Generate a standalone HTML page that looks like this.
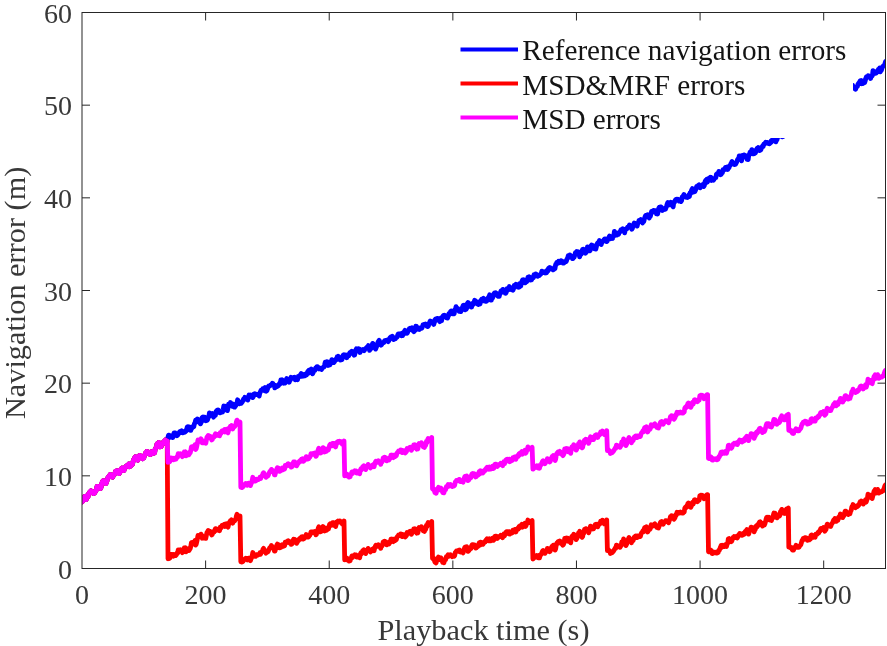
<!DOCTYPE html>
<html><head><meta charset="utf-8"><style>
html,body{margin:0;padding:0;background:#fff;}
svg{display:block;filter:blur(0.35px);}
text{font-family:"Liberation Serif",serif;}
</style></head><body>
<svg width="887" height="646" viewBox="0 0 887 646">
<rect x="0" y="0" width="887" height="646" fill="#fff"/>
<clipPath id="ax"><rect x="82.0" y="12.5" width="803.5" height="556.0"/></clipPath>
<g clip-path="url(#ax)">
<polyline points="82.0,501.9 82.6,501.3 83.2,499.5 83.8,498.5 84.4,496.6 85.0,496.3 85.6,498.3 86.2,499.5 86.8,496.3 87.4,495.8 88.0,496.7 88.6,493.6 89.2,493.8 89.8,492.0 90.4,491.4 91.0,490.7 91.6,491.8 92.2,491.4 92.8,491.8 93.4,493.4 94.0,492.2 94.6,493.1 95.2,491.3 95.8,491.3 96.4,489.5 97.0,486.5 97.6,486.5 98.2,487.7 98.8,488.1 99.4,486.7 100.0,487.7 100.6,488.4 101.2,486.8 101.8,483.5 102.4,481.8 103.0,481.0 103.6,480.7 104.2,480.8 104.8,482.5 105.4,482.0 106.0,483.5 106.6,481.7 107.2,480.3 107.8,477.7 108.4,477.6 109.0,476.1 109.6,475.9 110.2,474.5 110.8,474.9 111.4,476.8 112.0,476.7 112.6,477.1 113.2,476.1 113.8,474.6 114.4,474.5 115.0,473.1 115.6,471.1 116.2,471.2 116.8,470.8 117.4,472.1 118.0,472.6 118.6,472.9 119.2,473.5 119.8,472.5 120.4,471.2 121.0,468.9 121.6,469.1 122.2,468.1 122.8,470.4 123.4,469.4 124.0,470.5 124.6,468.0 125.2,467.9 125.8,466.4 126.4,465.9 127.0,465.6 127.6,465.4 128.2,465.8 128.8,463.9 129.4,466.7 130.0,465.9 130.6,466.1 131.2,464.7 131.8,464.7 132.4,464.5 133.0,461.7 133.6,459.8 134.2,459.2 134.8,457.5 135.4,456.7 136.0,457.4 136.6,459.4 137.2,459.7 137.8,460.2 138.4,458.3 139.0,456.0 139.6,455.4 140.2,455.7 140.8,457.3 141.4,457.5 142.0,457.1 142.6,458.7 143.2,458.1 143.8,457.9 144.4,455.7 145.0,454.5 145.6,452.8 146.2,452.7 146.8,451.5 147.4,451.6 148.0,451.9 148.6,453.6 149.2,453.2 149.8,454.4 150.4,454.5 151.0,454.2 151.6,451.7 152.2,451.8 152.8,453.4 153.4,451.2 154.0,453.1 154.6,452.8 155.2,449.2 155.8,448.1 156.4,447.4 157.0,443.9 157.6,444.4 158.2,444.7 158.8,442.4 159.4,445.3 160.0,446.8 160.6,445.6 161.2,446.5 161.8,444.5 162.4,443.8 163.0,443.5 163.6,441.7 164.2,443.2 164.8,441.3 165.4,440.1 166.0,440.8 166.6,441.3 167.2,441.2 166.8,439.8 167.4,439.6 168.0,436.9 168.6,435.1 169.2,436.5 169.8,437.3 170.4,436.9 171.0,435.8 171.6,436.6 172.2,437.5 172.8,437.5 173.4,435.5 174.0,433.0 174.6,433.0 175.2,432.9 175.8,433.9 176.4,433.8 177.0,435.8 177.6,435.1 178.2,434.5 178.8,433.3 179.4,432.1 180.0,431.5 180.6,432.4 181.2,431.6 181.8,430.8 182.4,432.3 183.0,432.8 183.6,432.2 184.2,431.6 184.8,432.3 185.4,431.5 186.0,431.4 186.6,429.5 187.2,427.2 187.8,426.7 188.4,426.8 189.0,428.0 189.6,427.1 190.2,430.4 190.8,430.4 191.4,428.6 192.0,428.0 192.6,426.6 193.2,426.5 193.8,426.8 194.4,423.8 195.0,423.0 195.6,420.3 196.2,422.2 196.8,420.9 197.4,419.0 198.0,419.4 198.6,421.4 199.2,421.5 199.8,422.7 200.4,423.8 201.0,422.9 201.6,419.0 202.2,417.5 202.8,417.1 203.4,418.2 204.0,420.2 204.6,417.1 205.2,419.9 205.8,420.6 206.4,419.2 207.0,420.4 207.6,419.7 208.2,417.2 208.8,416.8 209.4,412.9 210.0,413.4 210.6,413.6 211.2,413.7 211.8,414.4 212.4,413.6 213.0,416.2 213.6,417.1 214.2,415.8 214.8,415.7 215.4,415.4 216.0,411.5 216.6,412.3 217.2,410.2 217.8,411.0 218.4,410.0 219.0,411.1 219.6,412.8 220.2,412.8 220.8,411.7 221.4,411.6 222.0,412.0 222.6,412.0 223.2,409.5 223.8,406.0 224.4,406.9 225.0,406.4 225.6,409.2 226.2,408.9 226.8,410.5 227.4,410.6 228.0,408.1 228.6,404.1 229.2,405.9 229.8,405.2 230.4,402.5 231.0,403.1 231.6,404.5 232.2,406.3 232.8,404.3 233.4,404.1 234.0,407.1 234.6,407.2 235.2,406.2 235.8,405.7 236.4,404.6 237.0,403.1 237.6,399.8 238.2,400.8 238.8,402.5 239.4,403.8 240.0,403.4 240.6,402.6 241.2,403.2 241.8,402.6 242.4,401.8 243.0,400.6 243.6,398.9 244.2,399.7 244.8,397.3 245.4,397.7 246.0,398.6 246.6,398.8 247.2,399.2 247.8,400.0 248.4,398.1 249.0,395.0 249.6,395.8 250.2,395.1 250.8,395.9 251.4,395.4 252.0,396.6 252.6,397.6 253.2,396.9 253.8,394.3 254.4,394.5 255.0,393.7 255.6,394.7 256.2,394.4 256.8,394.6 257.4,394.3 258.0,394.7 258.6,394.1 259.2,396.1 259.8,393.1 260.4,391.9 261.0,390.2 261.6,390.2 262.2,389.9 262.8,388.7 263.4,389.9 264.0,389.4 264.6,390.7 265.2,387.5 265.8,390.2 266.4,391.1 267.0,390.5 267.6,388.8 268.2,387.1 268.8,385.9 269.4,385.9 270.0,385.9 270.6,384.8 271.2,384.7 271.8,384.2 272.4,383.2 273.0,383.7 273.6,385.1 274.2,385.3 274.8,387.9 275.4,385.4 276.0,386.2 276.6,386.1 277.2,386.5 277.8,385.8 278.4,385.7 279.0,384.4 279.6,383.2 280.2,383.8 280.8,380.0 281.4,380.3 282.0,379.7 282.6,382.7 283.2,380.9 283.8,383.2 284.4,382.2 285.0,383.0 285.6,380.8 286.2,379.6 286.8,378.5 287.4,380.0 288.0,379.9 288.6,380.2 289.2,382.3 289.8,380.5 290.4,379.9 291.0,377.3 291.6,378.6 292.2,378.0 292.8,377.8 293.4,377.4 294.0,377.7 294.6,377.2 295.2,379.8 295.8,379.7 296.4,378.2 297.0,378.9 297.6,379.6 298.2,376.5 298.8,377.1 299.4,376.6 300.0,375.6 300.6,374.5 301.2,373.6 301.8,376.3 302.4,374.4 303.0,375.5 303.6,375.9 304.2,374.7 304.8,375.8 305.4,375.3 306.0,374.0 306.6,374.8 307.2,372.8 307.8,371.5 308.4,373.3 309.0,370.1 309.6,370.4 310.2,370.9 310.8,371.3 311.4,369.0 312.0,372.3 312.6,373.8 313.2,372.5 313.8,371.2 314.4,370.2 315.0,370.3 315.6,368.0 316.2,368.4 316.8,366.7 317.4,366.7 318.0,368.0 318.6,367.5 319.2,368.9 319.8,368.3 320.4,368.8 321.0,368.2 321.6,369.5 322.2,367.8 322.8,367.9 323.4,367.1 324.0,367.1 324.6,364.8 325.2,362.2 325.8,364.3 326.4,362.9 327.0,361.7 327.6,362.0 328.2,365.5 328.8,364.2 329.4,364.5 330.0,364.7 330.6,362.8 331.2,361.8 331.8,359.6 332.4,360.9 333.0,362.7 333.6,362.7 334.2,362.1 334.8,361.2 335.4,360.3 336.0,358.9 336.6,359.7 337.2,356.7 337.8,357.5 338.4,356.3 339.0,357.7 339.6,358.4 340.2,360.0 340.8,359.5 341.4,358.6 342.0,359.7 342.6,357.5 343.2,355.0 343.8,354.8 344.4,355.7 345.0,355.3 345.6,354.9 346.2,355.2 346.8,357.7 347.4,354.9 348.0,355.8 348.6,355.9 349.2,354.6 349.8,352.7 350.4,353.3 351.0,351.8 351.6,351.3 352.2,353.2 352.8,351.6 353.4,353.1 354.0,355.2 354.6,355.0 355.2,352.9 355.8,350.0 356.4,348.8 357.0,349.1 357.6,349.4 358.2,348.8 358.8,349.9 359.4,349.0 360.0,352.5 360.6,351.1 361.2,350.0 361.8,349.9 362.4,350.1 363.0,349.5 363.6,349.9 364.2,350.7 364.8,349.5 365.4,348.8 366.0,348.2 366.6,347.6 367.2,347.0 367.8,346.8 368.4,345.6 369.0,347.6 369.6,350.4 370.2,349.3 370.8,348.8 371.4,346.1 372.0,345.2 372.6,343.4 373.2,343.9 373.8,345.0 374.4,346.2 375.0,348.4 375.6,349.0 376.2,347.5 376.8,346.1 377.4,345.2 378.0,342.0 378.6,341.1 379.2,340.3 379.8,343.1 380.4,343.0 381.0,345.2 381.6,344.7 382.2,343.6 382.8,342.8 383.4,342.2 384.0,342.5 384.6,340.6 385.2,341.0 385.8,340.7 386.4,340.4 387.0,340.1 387.6,341.0 388.2,341.6 388.8,340.8 389.4,339.7 390.0,337.7 390.6,337.1 391.2,337.7 391.8,336.9 392.4,336.2 393.0,338.6 393.6,339.5 394.2,338.0 394.8,339.0 395.4,338.9 396.0,337.8 396.6,337.3 397.2,337.0 397.8,334.6 398.4,333.8 399.0,333.9 399.6,334.0 400.2,333.9 400.8,335.5 401.4,335.7 402.0,333.3 402.6,335.6 403.2,334.0 403.8,334.0 404.4,331.3 405.0,330.4 405.6,330.9 406.2,332.1 406.8,333.3 407.4,332.8 408.0,331.2 408.6,330.4 409.2,328.8 409.8,329.4 410.4,328.3 411.0,329.6 411.6,328.8 412.2,327.9 412.8,330.7 413.4,330.9 414.0,331.7 414.6,330.0 415.2,330.2 415.8,326.2 416.4,326.4 417.0,328.3 417.6,327.5 418.2,329.3 418.8,329.1 419.4,329.4 420.0,328.1 420.6,327.7 421.2,328.4 421.8,328.2 422.4,326.9 423.0,324.8 423.6,324.4 424.2,325.2 424.8,324.4 425.4,324.0 426.0,324.7 426.6,325.7 427.2,326.5 427.8,326.6 428.4,325.8 429.0,323.4 429.6,322.4 430.2,321.0 430.8,321.2 431.4,322.0 432.0,321.9 432.6,323.3 433.2,323.1 433.8,324.4 434.4,322.3 435.0,319.6 435.6,319.0 436.2,320.3 436.8,319.9 437.4,318.5 438.0,318.5 438.6,320.3 439.2,320.6 439.8,321.7 440.4,320.2 441.0,318.0 441.6,320.7 442.2,317.4 442.8,316.2 443.4,315.5 444.0,316.2 444.6,315.3 445.2,315.8 445.8,316.1 446.4,317.8 447.0,317.0 447.6,318.1 448.2,316.0 448.8,313.8 449.4,314.6 450.0,314.0 450.6,311.3 451.2,311.0 451.8,312.0 452.4,312.2 453.0,313.8 453.6,313.4 454.2,313.7 454.8,309.7 455.4,309.6 456.0,306.6 456.6,308.9 457.2,308.6 457.8,308.4 458.4,310.2 459.0,311.1 459.6,310.3 460.2,311.4 460.8,311.6 461.4,310.0 462.0,308.4 462.6,306.9 463.2,305.5 463.8,305.2 464.4,307.7 465.0,309.9 465.6,308.6 466.2,309.1 466.8,308.0 467.4,303.4 468.0,302.5 468.6,303.5 469.2,305.3 469.8,306.4 470.4,306.4 471.0,305.4 471.6,307.1 472.2,303.5 472.8,303.5 473.4,304.3 474.0,302.4 474.6,300.3 475.2,300.6 475.8,301.4 476.4,303.0 477.0,301.8 477.6,304.1 478.2,304.5 478.8,304.2 479.4,303.3 480.0,304.0 480.6,300.6 481.2,300.1 481.8,299.2 482.4,299.1 483.0,300.4 483.6,298.2 484.2,300.9 484.8,300.5 485.4,301.2 486.0,300.3 486.6,301.1 487.2,299.9 487.8,298.5 488.4,297.4 489.0,296.9 489.6,294.8 490.2,295.9 490.8,300.1 491.4,300.2 492.0,296.7 492.6,298.0 493.2,295.5 493.8,293.9 494.4,293.1 495.0,292.9 495.6,292.7 496.2,293.5 496.8,293.4 497.4,295.8 498.0,296.2 498.6,295.1 499.2,296.3 499.8,293.9 500.4,293.4 501.0,290.8 501.6,290.6 502.2,291.3 502.8,289.4 503.4,291.7 504.0,292.3 504.6,291.8 505.2,293.2 505.8,293.3 506.4,292.0 507.0,288.7 507.6,290.1 508.2,288.4 508.8,289.6 509.4,286.5 510.0,288.1 510.6,287.9 511.2,288.9 511.8,289.8 512.4,289.5 513.0,290.1 513.6,288.6 514.2,285.4 514.8,285.8 515.4,285.3 516.0,284.3 516.6,285.7 517.2,285.9 517.8,287.0 518.4,286.3 519.0,287.3 519.6,283.6 520.2,285.8 520.8,286.0 521.4,283.0 522.0,281.1 522.6,280.0 523.2,281.6 523.8,279.8 524.4,282.6 525.0,282.9 525.6,282.5 526.2,282.0 526.8,281.8 527.4,279.3 528.0,277.1 528.6,277.6 529.2,276.9 529.8,280.0 530.4,280.1 531.0,278.9 531.6,279.8 532.2,277.4 532.8,277.3 533.4,277.8 534.0,274.7 534.6,274.9 535.2,275.1 535.8,273.9 536.4,274.6 537.0,275.5 537.6,276.3 538.2,275.5 538.8,275.6 539.4,275.4 540.0,274.7 540.6,274.2 541.2,273.7 541.8,271.2 542.4,271.5 543.0,272.1 543.6,272.5 544.2,272.5 544.8,271.9 545.4,272.9 546.0,272.5 546.6,272.8 547.2,270.3 547.8,271.1 548.4,268.6 549.0,267.9 549.6,267.5 550.2,267.6 550.8,268.8 551.4,269.1 552.0,269.2 552.6,268.9 553.2,269.8 553.8,269.4 554.4,267.5 555.0,268.7 555.6,264.5 556.2,264.8 556.8,262.4 557.4,263.4 558.0,262.5 558.6,261.3 559.2,262.8 559.8,262.6 560.4,261.6 561.0,260.7 561.6,260.8 562.2,262.3 562.8,263.1 563.4,262.7 564.0,263.0 564.6,261.3 565.2,261.3 565.8,261.8 566.4,261.2 567.0,259.0 567.6,258.4 568.2,255.8 568.8,256.8 569.4,256.3 570.0,255.0 570.6,255.5 571.2,256.4 571.8,257.2 572.4,258.7 573.0,258.6 573.6,257.5 574.2,257.2 574.8,255.1 575.4,252.7 576.0,253.0 576.6,251.6 577.2,252.8 577.8,251.7 578.4,252.0 579.0,253.3 579.6,256.8 580.2,255.2 580.8,253.2 581.4,254.0 582.0,250.9 582.6,249.5 583.2,249.2 583.8,250.3 584.4,251.3 585.0,250.6 585.6,253.2 586.2,252.0 586.8,251.7 587.4,247.0 588.0,247.8 588.6,250.6 589.2,249.7 589.8,250.8 590.4,250.0 591.0,245.9 591.6,245.0 592.2,245.2 592.8,245.6 593.4,246.9 594.0,248.0 594.6,248.9 595.2,248.8 595.8,249.1 596.4,246.8 597.0,244.0 597.6,243.1 598.2,243.9 598.8,242.3 599.4,240.5 600.0,241.8 600.6,243.3 601.2,244.6 601.8,242.5 602.4,241.9 603.0,241.4 603.6,240.3 604.2,239.6 604.8,238.8 605.4,238.8 606.0,240.5 606.6,241.6 607.2,241.1 607.8,239.4 608.4,238.3 609.0,237.1 609.6,236.1 610.2,236.7 610.8,238.7 611.4,236.9 612.0,238.1 612.6,238.4 613.2,235.8 613.8,236.1 614.4,231.4 615.0,232.3 615.6,234.0 616.2,234.0 616.8,235.1 617.4,234.6 618.0,233.8 618.6,234.2 619.2,232.4 619.8,232.2 620.4,231.3 621.0,229.7 621.6,229.8 622.2,230.6 622.8,228.7 623.4,230.2 624.0,230.2 624.6,232.8 625.2,230.4 625.8,229.1 626.4,228.9 627.0,228.7 627.6,227.0 628.2,226.9 628.8,226.7 629.4,225.0 630.0,225.3 630.6,225.7 631.2,227.2 631.8,229.2 632.4,228.4 633.0,226.4 633.6,224.8 634.2,223.0 634.8,224.2 635.4,224.4 636.0,223.6 636.6,223.8 637.2,226.1 637.8,223.3 638.4,222.6 639.0,220.4 639.6,220.5 640.2,220.2 640.8,219.5 641.4,220.1 642.0,221.4 642.6,222.9 643.2,220.8 643.8,221.6 644.4,218.9 645.0,216.8 645.6,215.6 646.2,215.1 646.8,215.2 647.4,214.8 648.0,216.0 648.6,217.1 649.2,218.0 649.8,216.5 650.4,216.2 651.0,213.5 651.6,211.5 652.2,211.2 652.8,212.0 653.4,210.3 654.0,210.3 654.6,211.8 655.2,211.9 655.8,210.7 656.4,213.8 657.0,213.2 657.6,213.9 658.2,211.2 658.8,208.2 659.4,207.1 660.0,207.1 660.6,206.9 661.2,207.1 661.8,208.1 662.4,210.5 663.0,209.8 663.6,209.1 664.2,209.4 664.8,208.5 665.4,209.2 666.0,207.8 666.6,206.0 667.2,203.9 667.8,202.5 668.4,204.1 669.0,204.9 669.6,203.0 670.2,204.0 670.8,202.2 671.4,203.4 672.0,204.1 672.6,206.2 673.2,206.8 673.8,202.1 674.4,202.5 675.0,200.7 675.6,199.7 676.2,199.3 676.8,200.1 677.4,200.0 678.0,199.2 678.6,200.4 679.2,201.2 679.8,201.2 680.4,200.9 681.0,201.5 681.6,200.6 682.2,196.8 682.8,197.5 683.4,195.5 684.0,194.5 684.6,196.8 685.2,196.4 685.8,197.0 686.4,197.3 687.0,196.9 687.6,197.5 688.2,197.0 688.8,195.0 689.4,196.5 690.0,192.9 690.6,193.7 691.2,191.2 691.8,189.7 692.4,188.6 693.0,190.1 693.6,192.0 694.2,191.6 694.8,191.7 695.4,190.5 696.0,188.9 696.6,186.5 697.2,187.0 697.8,185.9 698.4,185.3 699.0,184.8 699.6,185.7 700.2,187.9 700.8,185.5 701.4,186.1 702.0,185.9 702.6,184.8 703.2,186.0 703.8,186.4 704.4,185.5 705.0,181.7 705.6,180.4 706.2,181.0 706.8,179.3 707.4,182.2 708.0,180.1 708.6,178.6 709.2,179.1 709.8,179.5 710.4,177.2 711.0,177.4 711.6,180.5 712.2,179.8 712.8,179.9 713.4,180.2 714.0,179.5 714.6,178.3 715.2,177.8 715.8,177.7 716.4,174.4 717.0,173.7 717.6,173.9 718.2,174.1 718.8,171.4 719.4,172.7 720.0,172.7 720.6,174.7 721.2,174.4 721.8,173.0 722.4,172.9 723.0,169.6 723.6,170.2 724.2,169.6 724.8,169.5 725.4,167.4 726.0,168.0 726.6,168.5 727.2,167.1 727.8,169.5 728.4,167.8 729.0,167.8 729.6,165.7 730.2,165.3 730.8,163.8 731.4,162.9 732.0,161.5 732.6,162.5 733.2,163.1 733.8,163.8 734.4,164.6 735.0,164.2 735.6,164.3 736.2,163.0 736.8,161.9 737.4,160.0 738.0,158.9 738.6,159.3 739.2,155.9 739.8,158.2 740.4,159.4 741.0,159.3 741.6,160.7 742.2,155.3 742.8,155.3 743.4,157.0 744.0,154.9 744.6,155.2 745.2,155.7 745.8,156.8 746.4,157.2 747.0,159.4 747.6,158.0 748.2,159.5 748.8,155.0 749.4,154.7 750.0,152.3 750.6,152.5 751.2,152.1 751.8,149.7 752.4,151.4 753.0,153.9 753.6,150.7 754.2,153.7 754.8,152.3 755.4,153.0 756.0,151.4 756.6,149.7 757.2,148.2 757.8,148.6 758.4,147.5 759.0,148.4 759.6,150.6 760.2,149.3 760.8,149.9 761.4,148.2 762.0,147.0 762.6,145.9 763.2,146.4 763.8,144.2 764.4,144.1 765.0,143.2 765.6,142.4 766.2,142.9 766.8,142.4 767.4,142.6 768.0,143.2 768.6,143.6 769.2,143.8 769.8,143.5 770.4,143.0 771.0,141.0 771.6,141.8 772.2,140.0 772.8,139.1 773.4,138.6 774.0,137.9 774.6,140.1 775.2,139.9 775.8,141.9 776.4,140.1 777.0,139.8 777.6,136.9 778.2,135.3 778.8,134.9 779.4,133.3 780.0,134.5 780.6,136.0 781.2,135.8 781.8,136.5 782.4,136.8 783.0,136.7 783.6,134.6 784.2,131.1 784.8,130.1 785.4,131.1 786.0,129.9 786.6,132.4 787.2,130.4 787.8,133.9 788.4,133.1 789.0,133.6 789.6,133.1 790.2,129.3 790.8,128.2 791.4,126.8 792.0,126.0 792.6,127.8 793.2,126.0 793.8,129.6 794.4,128.7 795.0,128.9 795.6,127.3 796.2,126.9 796.8,126.1 797.4,126.5 798.0,124.5 798.6,122.4 799.2,122.6 799.8,121.6 800.4,121.6 801.0,121.0 801.6,122.3 802.2,124.8 802.8,124.9 803.4,122.3 804.0,122.4 804.6,120.0 805.2,119.6 805.8,118.9 806.4,119.5 807.0,120.2 807.6,118.9 808.2,119.7 808.8,115.6 809.4,116.0 810.0,114.1 810.6,115.0 811.2,115.0 811.8,113.9 812.4,115.4 813.0,115.9 813.6,115.4 814.2,115.9 814.8,116.0 815.4,114.3 816.0,113.6 816.6,113.1 817.2,110.6 817.8,108.6 818.4,109.7 819.0,109.3 819.6,111.0 820.2,111.8 820.8,112.6 821.4,111.2 822.0,108.8 822.6,106.6 823.2,107.1 823.8,105.3 824.4,106.7 825.0,105.6 825.6,104.9 826.2,105.6 826.8,106.3 827.4,106.4 828.0,106.8 828.6,105.8 829.2,105.5 829.8,102.6 830.4,104.0 831.0,100.1 831.6,99.7 832.2,100.2 832.8,99.0 833.4,99.2 834.0,101.6 834.6,102.1 835.2,102.7 835.8,99.9 836.4,98.3 837.0,95.5 837.6,97.9 838.2,100.6 838.8,99.7 839.4,97.3 840.0,95.0 840.6,93.5 841.2,93.9 841.8,92.0 842.4,93.2 843.0,95.8 843.6,94.6 844.2,95.8 844.8,97.0 845.4,94.6 846.0,90.7 846.6,90.9 847.2,88.7 847.8,89.3 848.4,89.4 849.0,89.7 849.6,91.6 850.2,91.3 850.8,88.3 851.4,87.2 852.0,85.8 852.6,85.2 853.2,87.9 853.8,87.0 854.4,88.4 855.0,87.4 855.6,89.2 856.2,87.5 856.8,86.7 857.4,86.4 858.0,84.2 858.6,83.2 859.2,83.5 859.8,81.6 860.4,80.6 861.0,80.5 861.6,83.7 862.2,82.2 862.8,83.5 863.4,81.3 864.0,81.5 864.6,82.7 865.2,81.0 865.8,78.4 866.4,76.9 867.0,76.7 867.6,76.8 868.2,75.7 868.8,76.2 869.4,77.1 870.0,77.4 870.6,78.5 871.2,76.1 871.8,76.3 872.4,75.5 873.0,70.6 873.6,72.6 874.2,71.5 874.8,71.6 875.4,72.3 876.0,73.3 876.6,72.5 877.2,71.9 877.8,70.9 878.4,69.2 879.0,69.7 879.6,68.1 880.2,71.9 880.8,71.0 881.4,70.3 882.0,68.4 882.6,66.7 883.2,66.2 883.8,65.7 884.4,65.5 885.0,63.4 885.6,61.4 886.2,64.2 886.8,62.4 887.4,64.1 888.0,64.5 888.6,64.3" fill="none" stroke="#0000ff" stroke-width="4.8" stroke-linejoin="round" stroke-linecap="round"/>
<polyline points="82.0,501.9 82.6,501.3 83.2,499.5 83.8,498.5 84.4,496.6 85.0,496.3 85.6,498.3 86.2,499.5 86.8,496.3 87.4,495.8 88.0,496.7 88.6,493.6 89.2,493.8 89.8,492.0 90.4,491.4 91.0,490.7 91.6,491.8 92.2,491.4 92.8,491.8 93.4,493.4 94.0,492.2 94.6,493.1 95.2,491.3 95.8,491.3 96.4,489.5 97.0,486.5 97.6,486.5 98.2,487.7 98.8,488.1 99.4,486.7 100.0,487.7 100.6,488.4 101.2,486.8 101.8,483.5 102.4,481.8 103.0,481.0 103.6,480.7 104.2,480.8 104.8,482.5 105.4,482.0 106.0,483.5 106.6,481.7 107.2,480.3 107.8,477.7 108.4,477.6 109.0,476.1 109.6,475.9 110.2,474.5 110.8,474.9 111.4,476.8 112.0,476.7 112.6,477.1 113.2,476.1 113.8,474.6 114.4,474.5 115.0,473.1 115.6,471.1 116.2,471.2 116.8,470.8 117.4,472.1 118.0,472.6 118.6,472.9 119.2,473.5 119.8,472.5 120.4,471.2 121.0,468.9 121.6,469.1 122.2,468.1 122.8,470.4 123.4,469.4 124.0,470.5 124.6,468.0 125.2,467.9 125.8,466.4 126.4,465.9 127.0,465.6 127.6,465.4 128.2,465.8 128.8,463.9 129.4,466.7 130.0,465.9 130.6,466.1 131.2,464.7 131.8,464.7 132.4,464.5 133.0,461.7 133.6,459.8 134.2,459.2 134.8,457.5 135.4,456.7 136.0,457.4 136.6,459.4 137.2,459.7 137.8,460.2 138.4,458.3 139.0,456.0 139.6,455.4 140.2,455.7 140.8,457.3 141.4,457.5 142.0,457.1 142.6,458.7 143.2,458.1 143.8,457.9 144.4,455.7 145.0,454.5 145.6,452.8 146.2,452.7 146.8,451.5 147.4,451.6 148.0,451.9 148.6,453.6 149.2,453.2 149.8,454.4 150.4,454.5 151.0,454.2 151.6,451.7 152.2,451.8 152.8,453.4 153.4,451.2 154.0,453.1 154.6,452.8 155.2,449.2 155.8,448.1 156.4,447.4 157.0,443.9 157.6,444.4 158.2,444.7 158.8,442.4 159.4,445.3 160.0,446.8 160.6,445.6 161.2,446.5 161.8,444.5 162.4,443.8 163.0,443.5 163.6,441.7 164.2,443.2 164.8,441.3 165.4,440.1 166.0,440.8 166.6,441.3 167.2,441.2 168.0,558.8 168.6,558.6 169.2,558.4 169.8,558.2 170.4,555.4 171.0,554.3 171.6,554.4 172.2,554.6 172.8,555.4 173.4,556.1 174.0,554.6 174.6,555.1 175.2,554.5 175.8,555.4 176.4,554.8 177.0,553.0 177.6,553.3 178.2,549.8 178.8,551.2 179.4,550.4 180.0,551.0 180.6,549.8 181.2,550.5 181.8,551.7 182.4,552.6 183.0,550.3 183.6,549.3 184.2,548.0 184.8,548.4 185.4,547.8 186.0,551.8 186.6,549.8 187.2,550.9 187.8,549.6 188.4,549.0 189.0,550.6 189.6,548.1 190.2,548.7 190.8,546.4 191.4,542.7 192.0,542.4 192.6,543.3 193.2,542.7 193.8,543.8 194.4,542.2 195.0,540.4 195.6,545.1 196.2,544.3 196.8,541.7 197.4,538.7 198.0,535.4 198.6,537.0 199.2,536.5 199.8,535.9 200.4,536.5 201.0,534.1 201.6,535.3 202.2,538.2 202.8,537.5 203.4,537.5 204.0,538.0 204.6,536.6 205.2,538.2 205.8,538.4 206.4,535.2 207.0,532.2 207.6,532.0 208.2,530.5 208.8,532.3 209.4,532.0 210.0,531.3 210.6,532.3 211.2,533.9 211.8,534.9 212.4,534.2 213.0,531.8 213.6,531.6 214.2,531.8 214.8,530.2 215.4,528.6 216.0,528.8 216.6,530.2 217.2,529.6 217.8,529.9 218.4,530.1 219.0,528.7 219.6,530.7 220.2,527.3 220.8,528.3 221.4,527.1 222.0,525.5 222.6,525.2 223.2,526.0 223.8,524.8 224.4,524.2 225.0,526.5 225.6,524.3 226.2,523.8 226.8,525.4 227.4,526.5 228.0,527.1 228.6,524.6 229.2,522.4 229.8,522.7 230.4,520.6 231.0,520.8 231.6,519.9 232.2,522.2 232.8,523.1 233.4,521.0 234.0,521.1 234.6,520.8 235.2,519.9 235.8,519.2 236.4,516.0 237.0,514.2 237.6,517.0 238.2,516.9 238.8,517.1 239.4,516.8 240.0,516.0 240.8,561.8 241.4,561.7 242.0,562.0 242.6,561.8 243.2,561.1 243.8,560.1 244.4,559.6 245.0,558.8 245.6,558.3 246.2,559.1 246.8,558.6 247.4,560.0 248.0,559.9 248.6,558.1 249.2,558.3 249.8,559.6 250.4,560.7 251.0,559.0 251.6,557.7 252.2,555.6 252.8,552.5 253.4,554.6 254.0,555.7 254.6,556.2 255.2,555.2 255.8,556.3 256.4,554.6 257.0,555.2 257.6,555.2 258.2,555.0 258.8,554.5 259.4,554.1 260.0,552.8 260.6,554.2 261.2,552.6 261.8,552.1 262.4,551.1 263.0,549.2 263.6,548.4 264.2,550.3 264.8,551.1 265.4,551.2 266.0,553.2 266.6,551.1 267.2,552.0 267.8,552.0 268.4,551.0 269.0,549.1 269.6,548.3 270.2,547.3 270.8,547.4 271.4,545.5 272.0,546.2 272.6,548.1 273.2,548.3 273.8,547.6 274.4,551.1 275.0,551.2 275.6,548.9 276.2,547.4 276.8,545.2 277.4,544.1 278.0,544.8 278.6,544.6 279.2,547.9 279.8,547.9 280.4,547.0 281.0,547.2 281.6,546.4 282.2,544.8 282.8,545.4 283.4,546.3 284.0,545.3 284.6,545.8 285.2,542.2 285.8,543.4 286.4,542.0 287.0,541.8 287.6,541.2 288.2,540.7 288.8,542.2 289.4,542.8 290.0,543.2 290.6,541.9 291.2,544.3 291.8,544.0 292.4,543.4 293.0,540.4 293.6,539.2 294.2,539.3 294.8,539.4 295.4,540.6 296.0,541.5 296.6,543.4 297.2,542.3 297.8,540.9 298.4,540.7 299.0,539.3 299.6,538.6 300.2,539.1 300.8,537.9 301.4,537.0 302.0,538.7 302.6,536.6 303.2,539.1 303.8,538.7 304.4,538.3 305.0,536.5 305.6,537.1 306.2,534.5 306.8,537.2 307.4,537.2 308.0,537.2 308.6,536.8 309.2,535.9 309.8,535.3 310.4,534.2 311.0,531.9 311.6,532.4 312.2,531.9 312.8,531.9 313.4,532.5 314.0,531.8 314.6,531.4 315.2,532.2 315.8,534.8 316.4,534.4 317.0,530.9 317.6,530.4 318.2,528.4 318.8,526.8 319.4,530.3 320.0,531.8 320.6,531.8 321.2,531.4 321.8,529.2 322.4,528.8 323.0,526.5 323.6,527.0 324.2,527.9 324.8,531.0 325.4,529.3 326.0,528.5 326.6,530.3 327.2,528.0 327.8,528.3 328.4,529.0 329.0,526.9 329.6,524.4 330.2,523.7 330.8,524.6 331.4,525.1 332.0,523.7 332.6,522.7 333.2,522.8 333.8,522.7 334.4,525.5 335.0,525.2 335.6,526.5 336.2,524.4 336.8,522.0 337.4,522.5 338.0,521.0 338.6,521.1 339.2,521.9 339.8,520.9 340.4,521.4 341.0,521.5 341.6,522.5 342.2,523.9 342.8,523.5 343.4,521.8 344.0,521.0 344.7,559.9 345.3,559.0 345.9,558.9 346.5,558.9 347.1,558.4 347.7,560.1 348.3,560.1 348.9,561.1 349.5,558.9 350.1,560.8 350.7,558.5 351.3,557.8 351.9,556.0 352.5,557.6 353.1,555.8 353.7,555.4 354.3,555.9 354.9,554.8 355.5,555.6 356.1,555.1 356.7,557.1 357.3,555.6 357.9,557.1 358.5,555.7 359.1,556.5 359.7,557.8 360.3,554.4 360.9,552.7 361.5,553.8 362.1,552.8 362.7,550.7 363.3,551.4 363.9,549.7 364.5,552.2 365.1,551.7 365.7,553.6 366.3,551.5 366.9,550.2 367.5,550.5 368.1,548.4 368.7,549.4 369.3,551.0 369.9,550.4 370.5,551.9 371.1,551.3 371.7,550.6 372.3,549.2 372.9,550.2 373.5,548.4 374.1,550.7 374.7,548.0 375.3,546.3 375.9,545.3 376.5,546.4 377.1,546.4 377.7,545.2 378.3,544.7 378.9,546.5 379.5,546.7 380.1,546.9 380.7,548.3 381.3,546.0 381.9,546.3 382.5,545.0 383.1,542.2 383.7,541.7 384.3,541.3 384.9,542.6 385.5,542.9 386.1,541.8 386.7,544.8 387.3,544.2 387.9,543.1 388.5,543.2 389.1,543.9 389.7,542.0 390.3,542.2 390.9,539.2 391.5,540.5 392.1,539.1 392.7,540.8 393.3,541.6 393.9,539.2 394.5,539.7 395.1,540.5 395.7,539.3 396.3,539.6 396.9,537.5 397.5,536.4 398.1,536.1 398.7,534.8 399.3,534.8 399.9,535.5 400.5,534.0 401.1,535.6 401.7,534.2 402.3,536.6 402.9,536.3 403.5,534.6 404.1,535.6 404.7,535.1 405.3,537.0 405.9,536.1 406.5,535.4 407.1,532.5 407.7,533.1 408.3,533.3 408.9,533.2 409.5,531.5 410.1,531.3 410.7,532.5 411.3,534.4 411.9,533.5 412.5,532.3 413.1,532.0 413.7,528.9 414.3,530.5 414.9,528.8 415.5,530.7 416.1,531.1 416.7,533.2 417.3,532.1 417.9,532.7 418.5,529.6 419.1,527.5 419.7,528.6 420.3,528.6 420.9,528.0 421.5,526.7 422.1,529.0 422.7,529.4 423.3,530.9 423.9,530.8 424.5,531.4 425.1,529.4 425.7,529.4 426.3,525.5 426.9,526.7 427.5,524.2 428.1,522.6 428.7,524.0 429.3,523.5 429.9,524.6 430.5,524.4 431.1,522.9 431.7,521.4 432.5,558.3 433.1,558.9 433.7,558.3 434.3,560.0 434.9,562.2 435.5,561.1 436.1,563.0 436.7,560.5 437.3,559.8 437.9,558.1 438.5,557.0 439.1,558.5 439.7,557.9 440.3,559.7 440.9,557.9 441.5,559.1 442.1,560.7 442.7,562.4 443.3,561.1 443.9,562.8 444.5,560.4 445.1,559.4 445.7,559.5 446.3,556.8 446.9,557.3 447.5,556.3 448.1,554.7 448.7,555.0 449.3,556.2 449.9,555.2 450.5,554.7 451.1,555.6 451.7,555.7 452.3,556.6 452.9,556.2 453.5,556.2 454.1,556.3 454.7,555.5 455.3,552.3 455.9,552.0 456.5,550.9 457.1,551.3 457.7,551.2 458.3,550.6 458.9,550.1 459.5,550.0 460.1,552.0 460.7,552.1 461.3,551.2 461.9,551.1 462.5,552.3 463.1,552.9 463.7,550.5 464.3,548.7 464.9,547.3 465.5,548.2 466.1,547.0 466.7,546.7 467.3,547.7 467.9,551.4 468.5,551.0 469.1,550.5 469.7,549.3 470.3,547.8 470.9,548.6 471.5,546.0 472.1,544.8 472.7,544.6 473.3,545.0 473.9,546.1 474.5,544.9 475.1,547.1 475.7,548.1 476.3,547.8 476.9,547.0 477.5,545.5 478.1,546.3 478.7,544.3 479.3,542.7 479.9,545.2 480.5,542.1 481.1,543.5 481.7,543.8 482.3,542.7 482.9,544.4 483.5,543.5 484.1,542.8 484.7,541.7 485.3,541.8 485.9,540.3 486.5,539.6 487.1,538.8 487.7,540.1 488.3,539.2 488.9,540.8 489.5,538.7 490.1,539.8 490.7,540.7 491.3,539.0 491.9,540.2 492.5,538.1 493.1,538.8 493.7,540.2 494.3,538.1 494.9,536.4 495.5,536.1 496.1,536.1 496.7,536.5 497.3,538.5 497.9,536.7 498.5,537.2 499.1,537.1 499.7,536.3 500.3,536.6 500.9,535.3 501.5,535.5 502.1,535.7 502.7,537.8 503.3,535.3 503.9,534.0 504.5,536.0 505.1,533.7 505.7,532.5 506.3,531.9 506.9,532.6 507.5,531.6 508.1,531.8 508.7,533.8 509.3,531.6 509.9,534.1 510.5,532.2 511.1,532.5 511.7,533.1 512.3,532.8 512.9,530.3 513.5,530.6 514.1,530.1 514.7,529.6 515.3,529.4 515.9,532.0 516.5,530.1 517.1,529.7 517.7,528.3 518.3,529.1 518.9,526.8 519.5,527.9 520.1,525.8 520.7,525.6 521.3,525.8 521.9,524.3 522.5,527.2 523.1,525.6 523.7,525.1 524.3,525.1 524.9,523.3 525.5,526.5 526.1,525.6 526.7,523.8 527.3,522.9 527.9,520.0 528.5,521.6 529.1,521.9 529.7,521.7 530.3,522.6 530.9,521.4 531.5,521.0 532.1,520.6 532.9,559.0 533.5,558.6 534.1,557.1 534.7,556.7 535.3,556.5 535.9,556.1 536.5,555.6 537.1,557.2 537.7,556.1 538.3,557.7 538.9,555.4 539.5,557.9 540.1,555.6 540.7,555.0 541.3,553.8 541.9,552.5 542.5,551.1 543.1,550.5 543.7,551.9 544.3,551.1 544.9,553.4 545.5,552.5 546.1,551.4 546.7,551.2 547.3,548.4 547.9,548.5 548.5,548.7 549.1,550.9 549.7,551.7 550.3,551.0 550.9,549.1 551.5,547.7 552.1,546.2 552.7,546.8 553.3,545.1 553.9,547.0 554.5,545.9 555.1,550.2 555.7,548.6 556.3,544.7 556.9,542.9 557.5,543.3 558.1,541.6 558.7,541.3 559.3,541.9 559.9,541.0 560.5,543.2 561.1,542.1 561.7,543.7 562.3,544.4 562.9,545.2 563.5,544.3 564.1,542.9 564.7,538.4 565.3,538.6 565.9,538.9 566.5,538.1 567.1,538.5 567.7,538.3 568.3,541.4 568.9,540.8 569.5,541.4 570.1,540.7 570.7,542.9 571.3,538.7 571.9,536.2 572.5,536.0 573.1,536.1 573.7,534.2 574.3,535.0 574.9,537.8 575.5,535.6 576.1,539.6 576.7,538.7 577.3,537.3 577.9,536.5 578.5,533.0 579.1,533.3 579.7,531.3 580.3,533.3 580.9,534.8 581.5,536.6 582.1,537.2 582.7,536.5 583.3,532.7 583.9,533.1 584.5,529.4 585.1,529.2 585.7,528.6 586.3,528.8 586.9,529.8 587.5,530.2 588.1,530.1 588.7,532.8 589.3,530.8 589.9,528.8 590.5,526.1 591.1,527.4 591.7,527.9 592.3,527.2 592.9,529.0 593.5,528.9 594.1,527.2 594.7,525.5 595.3,524.6 595.9,524.2 596.5,525.5 597.1,525.7 597.7,526.8 598.3,525.3 598.9,523.8 599.5,524.2 600.1,523.7 600.7,521.1 601.3,521.0 601.9,521.3 602.5,520.2 603.1,522.2 603.7,522.9 604.3,523.8 604.9,522.9 605.5,521.8 606.1,521.2 606.7,519.9 607.4,550.6 608.0,549.8 608.6,549.8 609.2,550.9 609.8,551.4 610.4,553.5 611.0,551.7 611.6,551.8 612.2,552.6 612.8,551.9 613.4,551.3 614.0,550.3 614.6,549.2 615.2,548.0 615.8,548.2 616.4,545.1 617.0,546.8 617.6,546.3 618.2,545.9 618.8,545.9 619.4,545.9 620.0,547.3 620.6,546.2 621.2,545.6 621.8,541.8 622.4,542.2 623.0,542.4 623.6,538.9 624.2,542.2 624.8,543.9 625.4,544.1 626.0,545.5 626.6,544.3 627.2,540.7 627.8,540.4 628.4,538.9 629.0,537.5 629.6,539.9 630.2,539.6 630.8,541.1 631.4,542.8 632.0,539.4 632.6,539.7 633.2,540.6 633.8,537.9 634.4,536.9 635.0,537.5 635.6,535.8 636.2,535.8 636.8,537.6 637.4,535.9 638.0,537.1 638.6,536.2 639.2,536.1 639.8,536.6 640.4,536.4 641.0,534.0 641.6,532.7 642.2,532.3 642.8,531.0 643.4,531.8 644.0,529.6 644.6,527.7 645.2,528.2 645.8,527.4 646.4,526.8 647.0,529.0 647.6,532.0 648.2,531.0 648.8,528.7 649.4,528.8 650.0,529.2 650.6,527.8 651.2,524.8 651.8,525.0 652.4,525.5 653.0,526.0 653.6,525.5 654.2,524.4 654.8,523.9 655.4,525.2 656.0,525.4 656.6,527.2 657.2,526.3 657.8,527.9 658.4,528.0 659.0,526.5 659.6,525.1 660.2,523.0 660.8,521.9 661.4,521.6 662.0,523.4 662.6,522.6 663.2,524.3 663.8,523.0 664.4,522.0 665.0,522.1 665.6,520.7 666.2,520.7 666.8,521.6 667.4,521.5 668.0,521.8 668.6,522.7 669.2,520.9 669.8,519.4 670.4,516.7 671.0,516.8 671.6,515.7 672.2,517.3 672.8,516.0 673.4,518.3 674.0,519.2 674.6,518.3 675.2,517.3 675.8,514.8 676.4,515.0 677.0,512.3 677.6,513.0 678.2,513.1 678.8,512.4 679.4,512.1 680.0,512.9 680.6,512.1 681.2,512.7 681.8,513.1 682.4,512.8 683.0,513.1 683.6,512.2 684.2,512.1 684.8,508.1 685.4,507.3 686.0,507.7 686.6,506.1 687.2,506.9 687.8,503.6 688.4,503.0 689.0,504.0 689.6,504.7 690.2,504.3 690.8,507.4 691.4,506.0 692.0,503.1 692.6,502.4 693.2,504.0 693.8,502.0 694.4,500.0 695.0,499.7 695.6,500.1 696.2,500.8 696.8,501.1 697.4,501.8 698.0,501.0 698.6,499.9 699.2,500.0 699.8,495.8 700.4,495.4 701.0,496.8 701.6,496.4 702.2,495.3 702.8,495.7 703.4,496.9 704.0,498.7 704.6,496.1 705.2,496.3 705.8,495.8 706.4,495.6 707.0,494.8 707.6,494.6 708.5,551.8 709.1,551.9 709.7,551.0 710.3,549.9 710.9,550.2 711.5,551.4 712.1,553.6 712.7,553.6 713.3,553.2 713.9,552.1 714.5,552.7 715.1,552.5 715.7,552.2 716.3,553.1 716.9,553.1 717.5,553.0 718.1,552.5 718.7,550.4 719.3,550.3 719.9,548.7 720.5,547.3 721.1,545.5 721.7,547.4 722.3,545.3 722.9,546.5 723.5,546.1 724.1,546.3 724.7,546.5 725.3,544.7 725.9,546.0 726.5,546.5 727.1,544.1 727.7,543.3 728.3,538.9 728.9,538.6 729.5,540.5 730.1,539.3 730.7,540.7 731.3,541.6 731.9,540.9 732.5,538.8 733.1,537.6 733.7,537.9 734.3,536.6 734.9,536.9 735.5,537.5 736.1,537.0 736.7,536.2 737.3,538.0 737.9,536.8 738.5,535.9 739.1,534.4 739.7,533.4 740.3,533.9 740.9,533.9 741.5,533.8 742.1,535.3 742.7,534.5 743.3,534.8 743.9,532.9 744.5,534.1 745.1,531.6 745.7,531.0 746.3,530.5 746.9,529.6 747.5,532.0 748.1,531.7 748.7,534.1 749.3,531.9 749.9,530.3 750.5,529.7 751.1,527.1 751.7,527.8 752.3,527.9 752.9,527.7 753.5,528.9 754.1,531.8 754.7,530.2 755.3,529.4 755.9,526.6 756.5,525.7 757.1,526.8 757.7,524.6 758.3,525.4 758.9,523.2 759.5,522.1 760.1,521.7 760.7,522.5 761.3,523.5 761.9,524.7 762.5,526.1 763.1,524.8 763.7,523.3 764.3,525.0 764.9,523.9 765.5,521.7 766.1,519.1 766.7,517.3 767.3,517.2 767.9,517.6 768.5,519.4 769.1,517.3 769.7,520.0 770.3,520.0 770.9,520.3 771.5,520.5 772.1,517.9 772.7,518.2 773.3,515.3 773.9,513.0 774.5,513.3 775.1,513.2 775.7,514.8 776.3,515.9 776.9,517.9 777.5,516.9 778.1,515.1 778.7,515.0 779.3,516.2 779.9,515.2 780.5,511.6 781.1,511.2 781.7,509.4 782.3,510.3 782.9,510.4 783.5,511.2 784.1,513.4 784.7,513.5 785.3,511.9 785.9,511.5 786.5,509.2 787.1,508.7 787.7,508.5 788.3,508.0 788.8,547.1 789.4,547.2 790.0,546.7 790.6,547.7 791.2,547.5 791.8,548.7 792.4,550.0 793.0,548.9 793.6,550.1 794.2,547.3 794.8,547.3 795.4,547.4 796.0,545.3 796.6,547.2 797.2,546.9 797.8,547.3 798.4,546.5 799.0,547.2 799.6,546.0 800.2,545.5 800.8,544.8 801.4,542.8 802.0,540.5 802.6,540.5 803.2,538.5 803.8,539.3 804.4,538.7 805.0,537.6 805.6,537.7 806.2,537.9 806.8,538.2 807.4,540.4 808.0,538.9 808.6,539.4 809.2,539.8 809.8,538.1 810.4,539.2 811.0,535.5 811.6,534.9 812.2,535.0 812.8,536.4 813.4,537.3 814.0,537.0 814.6,536.6 815.2,537.1 815.8,534.1 816.4,534.3 817.0,534.3 817.6,533.5 818.2,532.3 818.8,532.9 819.4,531.1 820.0,531.0 820.6,528.8 821.2,529.7 821.8,528.4 822.4,528.7 823.0,528.6 823.6,527.5 824.2,529.2 824.8,531.2 825.4,529.6 826.0,529.7 826.6,526.0 827.2,524.1 827.8,524.8 828.4,525.6 829.0,525.9 829.6,525.8 830.2,526.4 830.8,526.5 831.4,524.2 832.0,523.7 832.6,522.6 833.2,521.1 833.8,519.8 834.4,519.8 835.0,518.5 835.6,518.8 836.2,521.4 836.8,520.5 837.4,519.6 838.0,520.1 838.6,517.2 839.2,516.9 839.8,516.2 840.4,514.0 841.0,514.7 841.6,517.3 842.2,515.7 842.8,517.6 843.4,515.8 844.0,515.7 844.6,512.8 845.2,511.2 845.8,511.1 846.4,512.3 847.0,513.2 847.6,513.3 848.2,514.5 848.8,513.3 849.4,513.8 850.0,513.8 850.6,511.2 851.2,510.4 851.8,506.9 852.4,507.1 853.0,504.5 853.6,506.2 854.2,506.6 854.8,506.6 855.4,507.8 856.0,507.1 856.6,506.1 857.2,506.8 857.8,505.5 858.4,505.8 859.0,504.3 859.6,503.1 860.2,501.8 860.8,502.1 861.4,501.1 862.0,502.6 862.6,501.9 863.2,504.1 863.8,501.5 864.4,501.7 865.0,502.1 865.6,499.7 866.2,502.2 866.8,500.1 867.4,498.4 868.0,494.1 868.6,495.2 869.2,495.0 869.8,496.4 870.4,495.3 871.0,497.3 871.6,498.0 872.2,498.4 872.8,496.0 873.4,494.1 874.0,491.2 874.6,491.5 875.2,489.5 875.8,493.2 876.4,492.5 877.0,491.5 877.6,489.4 878.2,491.0 878.8,493.1 879.4,491.7 880.0,492.3 880.6,491.7 881.2,491.8 881.8,491.8 882.4,490.6 883.0,490.5 883.6,490.5 884.2,487.9 884.8,486.1 885.4,485.1 886.0,486.3 886.6,485.5" fill="none" stroke="#ff0000" stroke-width="4.8" stroke-linejoin="round" stroke-linecap="round"/>
<polyline points="82.0,501.9 82.6,501.3 83.2,499.5 83.8,498.5 84.4,496.6 85.0,496.3 85.6,498.3 86.2,499.5 86.8,496.3 87.4,495.8 88.0,496.7 88.6,493.6 89.2,493.8 89.8,492.0 90.4,491.4 91.0,490.7 91.6,491.8 92.2,491.4 92.8,491.8 93.4,493.4 94.0,492.2 94.6,493.1 95.2,491.3 95.8,491.3 96.4,489.5 97.0,486.5 97.6,486.5 98.2,487.7 98.8,488.1 99.4,486.7 100.0,487.7 100.6,488.4 101.2,486.8 101.8,483.5 102.4,481.8 103.0,481.0 103.6,480.7 104.2,480.8 104.8,482.5 105.4,482.0 106.0,483.5 106.6,481.7 107.2,480.3 107.8,477.7 108.4,477.6 109.0,476.1 109.6,475.9 110.2,474.5 110.8,474.9 111.4,476.8 112.0,476.7 112.6,477.1 113.2,476.1 113.8,474.6 114.4,474.5 115.0,473.1 115.6,471.1 116.2,471.2 116.8,470.8 117.4,472.1 118.0,472.6 118.6,472.9 119.2,473.5 119.8,472.5 120.4,471.2 121.0,468.9 121.6,469.1 122.2,468.1 122.8,470.4 123.4,469.4 124.0,470.5 124.6,468.0 125.2,467.9 125.8,466.4 126.4,465.9 127.0,465.6 127.6,465.4 128.2,465.8 128.8,463.9 129.4,466.7 130.0,465.9 130.6,466.1 131.2,464.7 131.8,464.7 132.4,464.5 133.0,461.7 133.6,459.8 134.2,459.2 134.8,457.5 135.4,456.7 136.0,457.4 136.6,459.4 137.2,459.7 137.8,460.2 138.4,458.3 139.0,456.0 139.6,455.4 140.2,455.7 140.8,457.3 141.4,457.5 142.0,457.1 142.6,458.7 143.2,458.1 143.8,457.9 144.4,455.7 145.0,454.5 145.6,452.8 146.2,452.7 146.8,451.5 147.4,451.6 148.0,451.9 148.6,453.6 149.2,453.2 149.8,454.4 150.4,454.5 151.0,454.2 151.6,451.7 152.2,451.8 152.8,453.4 153.4,451.2 154.0,453.1 154.6,452.8 155.2,449.2 155.8,448.1 156.4,447.4 157.0,443.9 157.6,444.4 158.2,444.7 158.8,442.4 159.4,445.3 160.0,446.8 160.6,445.6 161.2,446.5 161.8,444.5 162.4,443.8 163.0,443.5 163.6,441.7 164.2,443.2 164.8,441.3 165.4,440.1 166.0,440.8 166.6,441.3 167.2,441.2 168.0,462.3 168.6,462.1 169.2,462.0 169.8,461.8 170.4,459.0 171.0,457.9 171.6,458.0 172.2,458.3 172.8,459.0 173.4,459.8 174.0,458.3 174.6,458.8 175.2,458.2 175.8,459.2 176.4,458.6 177.0,456.8 177.6,457.1 178.2,453.7 178.8,455.1 179.4,454.3 180.0,454.9 180.6,453.8 181.2,454.5 181.8,455.7 182.4,456.6 183.0,454.3 183.6,453.3 184.2,452.1 184.8,452.5 185.4,451.9 186.0,455.9 186.6,453.9 187.2,455.1 187.8,453.8 188.4,453.2 189.0,454.8 189.6,452.3 190.2,452.9 190.8,450.7 191.4,447.0 192.0,446.7 192.6,447.7 193.2,447.1 193.8,448.2 194.4,446.6 195.0,444.8 195.6,449.5 196.2,448.8 196.8,446.2 197.4,443.3 198.0,439.9 198.6,441.5 199.2,441.1 199.8,440.5 200.4,441.1 201.0,438.8 201.6,439.9 202.2,442.9 202.8,442.2 203.4,442.2 204.0,442.8 204.6,441.3 205.2,443.0 205.8,443.2 206.4,440.0 207.0,437.0 207.6,436.9 208.2,435.4 208.8,437.2 209.4,436.9 210.0,436.3 210.6,437.3 211.2,438.9 211.8,440.0 212.4,439.3 213.0,436.9 213.6,436.6 214.2,436.9 214.8,435.3 215.4,433.8 216.0,434.0 216.6,435.4 217.2,434.8 217.8,435.1 218.4,435.4 219.0,433.9 219.6,435.9 220.2,432.6 220.8,433.6 221.4,432.4 222.0,430.9 222.6,430.6 223.2,431.4 223.8,430.2 224.4,429.6 225.0,432.0 225.6,429.8 226.2,429.3 226.8,431.0 227.4,432.1 228.0,432.7 228.6,430.2 229.2,428.0 229.8,428.3 230.4,426.3 231.0,426.5 231.6,425.6 232.2,427.9 232.8,428.9 233.4,426.8 234.0,426.8 234.6,426.6 235.2,425.7 235.8,425.0 236.4,421.8 237.0,420.1 237.6,422.9 238.2,422.8 238.8,423.1 239.4,422.7 240.0,422.0 240.8,487.3 241.4,487.2 242.0,487.5 242.6,487.2 243.2,486.5 243.8,485.4 244.4,484.9 245.0,484.1 245.6,483.5 246.2,484.3 246.8,483.8 247.4,485.2 248.0,485.0 248.6,483.2 249.2,483.3 249.8,484.6 250.4,485.6 251.0,483.9 251.6,482.7 252.2,480.4 252.8,477.3 253.4,479.4 254.0,480.5 254.6,481.0 255.2,479.9 255.8,481.0 256.4,479.3 257.0,479.8 257.6,479.8 258.2,479.6 258.8,479.1 259.4,478.6 260.0,477.3 260.6,478.6 261.2,477.0 261.8,476.5 262.4,475.4 263.0,473.5 263.6,472.7 264.2,474.6 264.8,475.3 265.4,475.4 266.0,477.4 266.6,475.2 267.2,476.1 267.8,476.1 268.4,475.1 269.0,473.1 269.6,472.3 270.2,471.2 270.8,471.3 271.4,469.4 272.0,470.0 272.6,471.9 273.2,472.1 273.8,471.4 274.4,474.8 275.0,474.9 275.6,472.5 276.2,471.0 276.8,468.8 277.4,467.7 278.0,468.3 278.6,468.1 279.2,471.3 279.8,471.3 280.4,470.4 281.0,470.6 281.6,469.7 282.2,468.1 282.8,468.7 283.4,469.6 284.0,468.5 284.6,469.0 285.2,465.4 285.8,466.5 286.4,465.0 287.0,464.9 287.6,464.2 288.2,463.7 288.8,465.1 289.4,465.7 290.0,466.1 290.6,464.8 291.2,467.1 291.8,466.8 292.4,466.2 293.0,463.2 293.6,461.9 294.2,462.0 294.8,462.0 295.4,463.2 296.0,464.0 296.6,465.9 297.2,464.8 297.8,463.4 298.4,463.1 299.0,461.7 299.6,461.0 300.2,461.4 300.8,460.2 301.4,459.3 302.0,461.0 302.6,458.8 303.2,461.3 303.8,460.8 304.4,460.4 305.0,458.5 305.6,459.1 306.2,456.6 306.8,459.2 307.4,459.1 308.0,459.1 308.6,458.7 309.2,457.7 309.8,457.2 310.4,456.0 311.0,453.7 311.6,454.1 312.2,453.6 312.8,453.5 313.4,454.2 314.0,453.4 314.6,453.0 315.2,453.7 315.8,456.3 316.4,455.8 317.0,452.4 317.6,451.8 318.2,449.8 318.8,448.2 319.4,451.7 320.0,453.1 320.6,453.0 321.2,452.7 321.8,450.4 322.4,449.9 323.0,447.6 323.6,448.1 324.2,448.9 324.8,452.0 325.4,450.3 326.0,449.4 326.6,451.2 327.2,448.9 327.8,449.2 328.4,449.8 329.0,447.7 329.6,445.2 330.2,444.4 330.8,445.4 331.4,445.8 332.0,444.3 332.6,443.3 333.2,443.4 333.8,443.3 334.4,446.0 335.0,445.7 335.6,446.9 336.2,444.8 336.8,442.4 337.4,442.9 338.0,441.3 338.6,441.4 339.2,442.2 339.8,441.2 340.4,441.6 341.0,441.7 341.6,442.6 342.2,444.0 342.8,443.6 343.4,441.8 344.0,441.0 344.7,475.9 345.3,475.0 345.9,474.9 346.5,474.9 347.1,474.4 347.7,476.1 348.3,476.1 348.9,477.1 349.5,474.9 350.1,476.8 350.7,474.5 351.3,473.8 351.9,472.0 352.5,473.6 353.1,471.8 353.7,471.4 354.3,471.9 354.9,470.8 355.5,471.6 356.1,471.1 356.7,473.1 357.3,471.6 357.9,473.1 358.5,471.7 359.1,472.5 359.7,473.8 360.3,470.4 360.9,468.7 361.5,469.8 362.1,468.8 362.7,466.7 363.3,467.4 363.9,465.7 364.5,468.2 365.1,467.7 365.7,469.6 366.3,467.5 366.9,466.2 367.5,466.5 368.1,464.4 368.7,465.4 369.3,467.0 369.9,466.4 370.5,467.9 371.1,467.3 371.7,466.6 372.3,465.2 372.9,466.2 373.5,464.4 374.1,466.7 374.7,464.0 375.3,462.3 375.9,461.3 376.5,462.4 377.1,462.4 377.7,461.2 378.3,460.7 378.9,462.5 379.5,462.7 380.1,462.9 380.7,464.3 381.3,462.0 381.9,462.3 382.5,461.0 383.1,458.2 383.7,457.7 384.3,457.3 384.9,458.6 385.5,458.9 386.1,457.8 386.7,460.8 387.3,460.2 387.9,459.1 388.5,459.2 389.1,459.9 389.7,458.0 390.3,458.2 390.9,455.2 391.5,456.5 392.1,455.1 392.7,456.8 393.3,457.6 393.9,455.2 394.5,455.7 395.1,456.5 395.7,455.3 396.3,455.6 396.9,453.5 397.5,452.4 398.1,452.1 398.7,450.8 399.3,450.8 399.9,451.5 400.5,450.0 401.1,451.6 401.7,450.2 402.3,452.6 402.9,452.3 403.5,450.6 404.1,451.6 404.7,451.1 405.3,453.0 405.9,452.1 406.5,451.4 407.1,448.5 407.7,449.1 408.3,449.3 408.9,449.2 409.5,447.5 410.1,447.3 410.7,448.5 411.3,450.4 411.9,449.5 412.5,448.3 413.1,448.0 413.7,444.9 414.3,446.5 414.9,444.8 415.5,446.7 416.1,447.1 416.7,449.2 417.3,448.1 417.9,448.7 418.5,445.6 419.1,443.5 419.7,444.6 420.3,444.6 420.9,444.0 421.5,442.7 422.1,445.0 422.7,445.4 423.3,446.9 423.9,446.8 424.5,447.4 425.1,445.4 425.7,445.4 426.3,441.5 426.9,442.7 427.5,440.2 428.1,438.6 428.7,440.0 429.3,439.5 429.9,440.6 430.5,440.4 431.1,438.9 431.7,437.4 432.5,488.8 433.1,489.4 433.7,488.7 434.3,490.4 434.9,492.6 435.5,491.5 436.1,493.3 436.7,490.9 437.3,490.1 437.9,488.4 438.5,487.3 439.1,488.7 439.7,488.1 440.3,489.9 440.9,488.1 441.5,489.2 442.1,490.8 442.7,492.5 443.3,491.1 443.9,492.9 444.5,490.4 445.1,489.4 445.7,489.5 446.3,486.8 446.9,487.3 447.5,486.2 448.1,484.6 448.7,484.9 449.3,486.1 449.9,485.1 450.5,484.5 451.1,485.4 451.7,485.5 452.3,486.4 452.9,485.9 453.5,485.9 454.1,486.0 454.7,485.1 455.3,481.9 455.9,481.6 456.5,480.5 457.1,480.8 457.7,480.7 458.3,480.1 458.9,479.6 459.5,479.4 460.1,481.5 460.7,481.5 461.3,480.6 461.9,480.5 462.5,481.7 463.1,482.2 463.7,479.8 464.3,477.9 464.9,476.5 465.5,477.4 466.1,476.2 466.7,475.9 467.3,476.9 467.9,480.6 468.5,480.1 469.1,479.6 469.7,478.3 470.3,476.9 470.9,477.6 471.5,475.0 472.1,473.7 472.7,473.5 473.3,474.0 473.9,475.0 474.5,473.8 475.1,475.9 475.7,476.9 476.3,476.6 476.9,475.8 477.5,474.3 478.1,475.1 478.7,473.0 479.3,471.5 479.9,473.9 480.5,470.8 481.1,472.2 481.7,472.5 482.3,471.3 482.9,473.0 483.5,472.1 484.1,471.3 484.7,470.2 485.3,470.3 485.9,468.7 486.5,468.0 487.1,467.3 487.7,468.5 488.3,467.6 488.9,469.2 489.5,467.0 490.1,468.1 490.7,469.0 491.3,467.3 491.9,468.5 492.5,466.3 493.1,467.0 493.7,468.4 494.3,466.2 494.9,464.5 495.5,464.2 496.1,464.1 496.7,464.6 497.3,466.5 497.9,464.7 498.5,465.2 499.1,465.1 499.7,464.3 500.3,464.5 500.9,463.2 501.5,463.4 502.1,463.6 502.7,465.7 503.3,463.1 503.9,461.8 504.5,463.8 505.1,461.4 505.7,460.2 506.3,459.6 506.9,460.3 507.5,459.2 508.1,459.5 508.7,461.4 509.3,459.1 509.9,461.7 510.5,459.7 511.1,460.0 511.7,460.6 512.3,460.3 512.9,457.7 513.5,458.1 514.1,457.5 514.7,456.9 515.3,456.8 515.9,459.3 516.5,457.4 517.1,457.0 517.7,455.5 518.3,456.3 518.9,454.0 519.5,455.0 520.1,453.0 520.7,452.8 521.3,452.9 521.9,451.4 522.5,454.2 523.1,452.6 523.7,452.1 524.3,452.1 524.9,450.3 525.5,453.4 526.1,452.6 526.7,450.7 527.3,449.8 527.9,446.9 528.5,448.4 529.1,448.8 529.7,448.5 530.3,449.3 530.9,448.2 531.5,447.8 532.1,447.3 532.9,469.2 533.5,468.8 534.1,467.3 534.7,466.9 535.3,466.8 535.9,466.3 536.5,465.9 537.1,467.5 537.7,466.3 538.3,467.9 538.9,465.6 539.5,468.2 540.1,465.8 540.7,465.3 541.3,464.1 541.9,462.8 542.5,461.4 543.1,460.8 543.7,462.2 544.3,461.4 544.9,463.7 545.5,462.8 546.1,461.7 546.7,461.5 547.3,458.7 547.9,458.9 548.5,459.0 549.1,461.3 549.7,462.0 550.3,461.4 550.9,459.5 551.5,458.1 552.1,456.6 552.7,457.1 553.3,455.5 553.9,457.4 554.5,456.3 555.1,460.5 555.7,459.0 556.3,455.1 556.9,453.3 557.5,453.7 558.1,452.0 558.7,451.7 559.3,452.3 559.9,451.4 560.5,453.6 561.1,452.6 561.7,454.1 562.3,454.8 562.9,455.6 563.5,454.7 564.1,453.4 564.7,448.8 565.3,449.1 565.9,449.4 566.5,448.6 567.1,449.0 567.7,448.8 568.3,451.9 568.9,451.3 569.5,451.8 570.1,451.2 570.7,453.4 571.3,449.3 571.9,446.7 572.5,446.5 573.1,446.6 573.7,444.7 574.3,445.5 574.9,448.4 575.5,446.1 576.1,450.2 576.7,449.2 577.3,447.8 577.9,447.1 578.5,443.6 579.1,443.9 579.7,441.9 580.3,443.9 580.9,445.4 581.5,447.2 582.1,447.8 582.7,447.2 583.3,443.3 583.9,443.7 584.5,440.0 585.1,439.9 585.7,439.2 586.3,439.4 586.9,440.4 587.5,440.8 588.1,440.7 588.7,443.4 589.3,441.5 589.9,439.4 590.5,436.8 591.1,438.1 591.7,438.6 592.3,437.9 592.9,439.7 593.5,439.6 594.1,437.9 594.7,436.2 595.3,435.3 595.9,434.9 596.5,436.2 597.1,436.4 597.7,437.5 598.3,436.1 598.9,434.5 599.5,434.9 600.1,434.4 600.7,431.9 601.3,431.7 601.9,432.0 602.5,431.0 603.1,433.0 603.7,433.6 604.3,434.5 604.9,433.7 605.5,432.6 606.1,432.0 606.7,430.7 607.4,450.6 608.0,449.8 608.6,449.8 609.2,450.9 609.8,451.4 610.4,453.5 611.0,451.7 611.6,451.8 612.2,452.6 612.8,451.9 613.4,451.3 614.0,450.3 614.6,449.2 615.2,448.0 615.8,448.2 616.4,445.1 617.0,446.8 617.6,446.3 618.2,445.9 618.8,445.9 619.4,445.9 620.0,447.3 620.6,446.2 621.2,445.6 621.8,441.8 622.4,442.2 623.0,442.4 623.6,438.9 624.2,442.2 624.8,443.9 625.4,444.1 626.0,445.5 626.6,444.3 627.2,440.7 627.8,440.4 628.4,438.9 629.0,437.5 629.6,439.9 630.2,439.6 630.8,441.1 631.4,442.8 632.0,439.4 632.6,439.7 633.2,440.6 633.8,437.9 634.4,436.9 635.0,437.5 635.6,435.8 636.2,435.8 636.8,437.6 637.4,435.9 638.0,437.1 638.6,436.2 639.2,436.1 639.8,436.6 640.4,436.4 641.0,434.0 641.6,432.7 642.2,432.3 642.8,431.0 643.4,431.8 644.0,429.6 644.6,427.7 645.2,428.2 645.8,427.4 646.4,426.8 647.0,429.0 647.6,432.0 648.2,431.0 648.8,428.7 649.4,428.8 650.0,429.2 650.6,427.8 651.2,424.8 651.8,425.0 652.4,425.5 653.0,426.0 653.6,425.5 654.2,424.4 654.8,423.9 655.4,425.2 656.0,425.4 656.6,427.2 657.2,426.3 657.8,427.9 658.4,428.0 659.0,426.5 659.6,425.1 660.2,423.0 660.8,421.9 661.4,421.6 662.0,423.4 662.6,422.6 663.2,424.3 663.8,423.0 664.4,422.0 665.0,422.1 665.6,420.7 666.2,420.7 666.8,421.6 667.4,421.5 668.0,421.8 668.6,422.7 669.2,420.9 669.8,419.4 670.4,416.7 671.0,416.8 671.6,415.7 672.2,417.3 672.8,416.0 673.4,418.3 674.0,419.2 674.6,418.3 675.2,417.3 675.8,414.8 676.4,415.0 677.0,412.3 677.6,413.0 678.2,413.1 678.8,412.4 679.4,412.1 680.0,412.9 680.6,412.1 681.2,412.7 681.8,413.1 682.4,412.8 683.0,413.1 683.6,412.2 684.2,412.1 684.8,408.1 685.4,407.3 686.0,407.7 686.6,406.1 687.2,406.9 687.8,403.6 688.4,403.0 689.0,404.0 689.6,404.7 690.2,404.3 690.8,407.4 691.4,406.0 692.0,403.1 692.6,402.4 693.2,404.0 693.8,402.0 694.4,400.0 695.0,399.7 695.6,400.1 696.2,400.8 696.8,401.1 697.4,401.8 698.0,401.0 698.6,399.9 699.2,400.0 699.8,395.8 700.4,395.4 701.0,396.8 701.6,396.4 702.2,395.3 702.8,395.7 703.4,396.9 704.0,398.7 704.6,396.1 705.2,396.3 705.8,395.8 706.4,395.6 707.0,394.8 707.6,394.6 708.5,458.5 709.1,458.6 709.7,457.7 710.3,456.6 710.9,456.9 711.5,458.1 712.1,460.2 712.7,460.2 713.3,459.8 713.9,458.8 714.5,459.3 715.1,459.2 715.7,458.8 716.3,459.7 716.9,459.8 717.5,459.7 718.1,459.2 718.7,457.0 719.3,457.0 719.9,455.3 720.5,454.0 721.1,452.2 721.7,454.0 722.3,451.9 722.9,453.1 723.5,452.8 724.1,453.0 724.7,453.2 725.3,451.4 725.9,452.6 726.5,453.1 727.1,450.8 727.7,449.9 728.3,445.5 728.9,445.2 729.5,447.1 730.1,445.9 730.7,447.3 731.3,448.2 731.9,447.5 732.5,445.4 733.1,444.2 733.7,444.5 734.3,443.2 734.9,443.5 735.5,444.1 736.1,443.6 736.7,442.8 737.3,444.6 737.9,443.4 738.5,442.4 739.1,441.0 739.7,440.0 740.3,440.4 740.9,440.5 741.5,440.4 742.1,441.9 742.7,441.0 743.3,441.3 743.9,439.4 744.5,440.6 745.1,438.2 745.7,437.5 746.3,437.1 746.9,436.2 747.5,438.6 748.1,438.2 748.7,440.6 749.3,438.4 749.9,436.9 750.5,436.2 751.1,433.6 751.7,434.3 752.3,434.4 752.9,434.2 753.5,435.4 754.1,438.4 754.7,436.7 755.3,435.9 755.9,433.2 756.5,432.2 757.1,433.3 757.7,431.1 758.3,431.9 758.9,429.8 759.5,428.6 760.1,428.2 760.7,429.0 761.3,430.0 761.9,431.2 762.5,432.6 763.1,431.3 763.7,429.8 764.3,431.5 764.9,430.4 765.5,428.1 766.1,425.6 766.7,423.8 767.3,423.6 767.9,424.1 768.5,425.9 769.1,423.7 769.7,426.5 770.3,426.5 770.9,426.7 771.5,427.0 772.1,424.4 772.7,424.7 773.3,421.8 773.9,419.4 774.5,419.7 775.1,419.6 775.7,421.3 776.3,422.4 776.9,424.3 777.5,423.3 778.1,421.5 778.7,421.5 779.3,422.7 779.9,421.6 780.5,418.0 781.1,417.6 781.7,415.8 782.3,416.7 782.9,416.8 783.5,417.6 784.1,419.8 784.7,419.9 785.3,418.3 785.9,417.9 786.5,415.6 787.1,415.1 787.7,414.9 788.3,414.4 788.8,430.3 789.4,430.4 790.0,429.9 790.6,430.9 791.2,430.7 791.8,432.0 792.4,433.3 793.0,432.2 793.6,433.4 794.2,430.7 794.8,430.7 795.4,430.7 796.0,428.7 796.6,430.6 797.2,430.3 797.8,430.7 798.4,429.9 799.0,430.6 799.6,429.4 800.2,429.0 800.8,428.3 801.4,426.3 802.0,424.0 802.6,424.0 803.2,422.1 803.8,422.8 804.4,422.2 805.0,421.2 805.6,421.3 806.2,421.5 806.8,421.8 807.4,424.1 808.0,422.6 808.6,423.0 809.2,423.5 809.8,421.8 810.4,422.9 811.0,419.2 811.6,418.6 812.2,418.8 812.8,420.2 813.4,421.1 814.0,420.8 814.6,420.4 815.2,421.0 815.8,417.9 816.4,418.2 817.0,418.2 817.6,417.4 818.2,416.2 818.8,416.8 819.4,415.0 820.0,414.9 820.6,412.7 821.2,413.7 821.8,412.4 822.4,412.7 823.0,412.6 823.6,411.5 824.2,413.3 824.8,415.2 825.4,413.7 826.0,413.8 826.6,410.1 827.2,408.2 827.8,408.9 828.4,409.8 829.0,410.1 829.6,409.9 830.2,410.6 830.8,410.6 831.4,408.4 832.0,407.9 832.6,406.8 833.2,405.3 833.8,404.1 834.4,404.1 835.0,402.8 835.6,403.1 836.2,405.8 836.8,404.8 837.4,404.0 838.0,404.5 838.6,401.5 839.2,401.3 839.8,400.6 840.4,398.4 841.0,399.1 841.6,401.7 842.2,400.2 842.8,402.0 843.4,400.3 844.0,400.2 844.6,397.3 845.2,395.7 845.8,395.7 846.4,396.8 847.0,397.8 847.6,397.9 848.2,399.1 848.8,397.9 849.4,398.4 850.0,398.4 850.6,395.9 851.2,395.0 851.8,391.6 852.4,391.8 853.0,389.2 853.6,390.9 854.2,391.3 854.8,391.3 855.4,392.6 856.0,391.9 856.6,390.9 857.2,391.6 857.8,390.3 858.4,390.6 859.0,389.2 859.6,388.0 860.2,386.6 860.8,387.0 861.4,386.0 862.0,387.5 862.6,386.8 863.2,389.0 863.8,386.4 864.4,386.6 865.0,387.0 865.6,384.7 866.2,387.2 866.8,385.2 867.4,383.5 868.0,379.1 868.6,380.3 869.2,380.1 869.8,381.5 870.4,380.4 871.0,382.4 871.6,383.2 872.2,383.6 872.8,381.2 873.4,379.2 874.0,376.4 874.6,376.7 875.2,374.7 875.8,378.5 876.4,377.8 877.0,376.8 877.6,374.6 878.2,376.3 878.8,378.4 879.4,377.0 880.0,377.6 880.6,377.0 881.2,377.1 881.8,377.2 882.4,376.0 883.0,375.9 883.6,375.9 884.2,373.4 884.8,371.6 885.4,370.6 886.0,371.8 886.6,371.0" fill="none" stroke="#ff00ff" stroke-width="4.8" stroke-linejoin="round" stroke-linecap="round"/>
</g>
<rect x="452" y="22" width="401" height="116" fill="#fff"/>
<g stroke="#262626" stroke-width="1" fill="none">
<rect x="82.0" y="12.5" width="803.5" height="556.0"/>
<line x1="205.62" y1="568.5" x2="205.62" y2="560.5" /><line x1="205.62" y1="12.5" x2="205.62" y2="20.5" /><line x1="329.23" y1="568.5" x2="329.23" y2="560.5" /><line x1="329.23" y1="12.5" x2="329.23" y2="20.5" /><line x1="452.85" y1="568.5" x2="452.85" y2="560.5" /><line x1="452.85" y1="12.5" x2="452.85" y2="20.5" /><line x1="576.46" y1="568.5" x2="576.46" y2="560.5" /><line x1="576.46" y1="12.5" x2="576.46" y2="20.5" /><line x1="700.08" y1="568.5" x2="700.08" y2="560.5" /><line x1="700.08" y1="12.5" x2="700.08" y2="20.5" /><line x1="823.69" y1="568.5" x2="823.69" y2="560.5" /><line x1="823.69" y1="12.5" x2="823.69" y2="20.5" /><line x1="82.0" y1="475.83" x2="90.0" y2="475.83" /><line x1="885.5" y1="475.83" x2="877.5" y2="475.83" /><line x1="82.0" y1="383.17" x2="90.0" y2="383.17" /><line x1="885.5" y1="383.17" x2="877.5" y2="383.17" /><line x1="82.0" y1="290.50" x2="90.0" y2="290.50" /><line x1="885.5" y1="290.50" x2="877.5" y2="290.50" /><line x1="82.0" y1="197.83" x2="90.0" y2="197.83" /><line x1="885.5" y1="197.83" x2="877.5" y2="197.83" /><line x1="82.0" y1="105.17" x2="90.0" y2="105.17" /><line x1="885.5" y1="105.17" x2="877.5" y2="105.17" />
</g>
<g font-size="28" fill="#383838"><text x="82.0" y="604.2" text-anchor="middle">0</text><text x="205.6" y="604.2" text-anchor="middle">200</text><text x="329.2" y="604.2" text-anchor="middle">400</text><text x="452.8" y="604.2" text-anchor="middle">600</text><text x="576.5" y="604.2" text-anchor="middle">800</text><text x="700.1" y="604.2" text-anchor="middle">1000</text><text x="823.7" y="604.2" text-anchor="middle">1200</text><text x="72" y="578.7" text-anchor="end">0</text><text x="72" y="486.0" text-anchor="end">10</text><text x="72" y="393.4" text-anchor="end">20</text><text x="72" y="300.7" text-anchor="end">30</text><text x="72" y="208.0" text-anchor="end">40</text><text x="72" y="115.4" text-anchor="end">50</text><text x="72" y="22.7" text-anchor="end">60</text></g>
<text x="483.5" y="639.5" font-size="30.3" fill="#383838" text-anchor="middle">Playback time (s)</text>
<text transform="translate(25,292.9) rotate(-90)" font-size="30.3" fill="#383838" text-anchor="middle">Navigation error (m)</text>
<g stroke-width="4">
<line x1="460.5" y1="49.5" x2="518" y2="49.5" stroke="#0000ff"/>
<line x1="460.5" y1="83.4" x2="518" y2="83.4" stroke="#ff0000"/>
<line x1="460.5" y1="117.6" x2="518" y2="117.6" stroke="#ff00ff"/>
</g>
<g font-size="29.2" fill="#141414">
<text x="522.3" y="60.2">Reference navigation errors</text>
<text x="522.3" y="94.5">MSD&amp;MRF errors</text>
<text x="522.3" y="128.5">MSD errors</text>
</g>
</svg>
</body></html>
